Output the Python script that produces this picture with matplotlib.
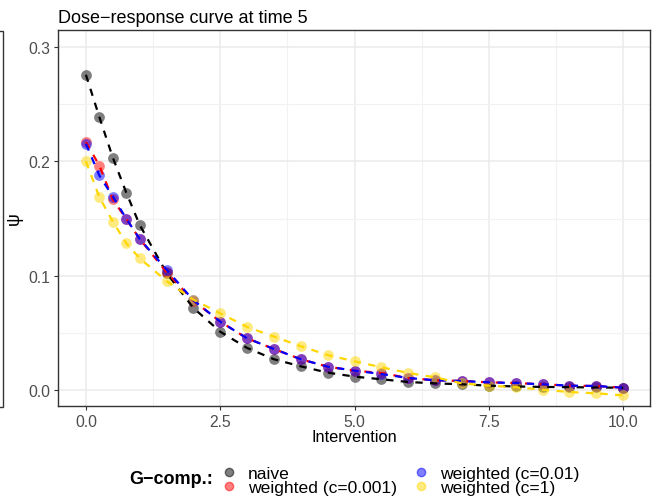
import matplotlib.pyplot as plt
from matplotlib.lines import Line2D
from matplotlib.patches import Rectangle
from matplotlib.ticker import MultipleLocator

plt.rcParams["font.family"] = ["Liberation Sans", "DejaVu Sans"]

intervention = [0, 0.25, 0.5, 0.75, 1, 1.5, 2, 2.5, 3, 3.5, 4, 4.5, 5,
                5.5, 6, 6.5, 7, 7.5, 8, 8.5, 9, 9.5, 10]

naive = [0.2758, 0.2388, 0.2034, 0.1728, 0.1445, 0.1025, 0.0718, 0.0510,
         0.0368, 0.0269, 0.0207, 0.0152, 0.0117, 0.0094, 0.0070, 0.0058,
         0.0050, 0.0038, 0.0031, 0.0027, 0.0025, 0.0022, 0.0020]
w_0001 = [0.2169, 0.1964, 0.1667, 0.1497, 0.1322, 0.1031, 0.0782, 0.0598,
          0.0452, 0.0359, 0.0269, 0.0204, 0.0169, 0.0149, 0.0105, 0.0085,
          0.0079, 0.0067, 0.0061, 0.0050, 0.0038, 0.0035, 0.0020]
w_001 = [0.2154, 0.1877, 0.1693, 0.1500, 0.1322, 0.1054, 0.0785, 0.0598,
         0.0452, 0.0359, 0.0269, 0.0204, 0.0169, 0.0140, 0.0105, 0.0085,
         0.0079, 0.0067, 0.0061, 0.0050, 0.0038, 0.0035, 0.0020]
w_1 = [0.2000, 0.1687, 0.1474, 0.1284, 0.1153, 0.0954, 0.0790, 0.0671,
       0.0552, 0.0467, 0.0383, 0.0306, 0.0251, 0.0199, 0.0149, 0.0111,
       0.0058, 0.0038, 0.0024, 0.0003, -0.0018, -0.0029, -0.0047]

labels = ["naive", "weighted (c=0.001)", "weighted (c=0.01)", "weighted (c=1)"]
colors = ["black", "red", "blue", "gold"]
series = [naive, w_0001, w_001, w_1]

W, H = 664, 502
fig = plt.figure(figsize=(W / 100, H / 100), dpi=100)
ax = fig.add_axes([58 / W, 1 - 407 / H, (650 - 58) / W, (407 - 31) / H])

# points first, then the dashed lines over them
for y, c in zip(series, colors):
    ax.scatter(intervention, y, s=60, color=c, alpha=0.5, linewidths=0, zorder=3)
for y, c in zip(series, colors):
    ax.plot(intervention, y, color=c, lw=1.6, dashes=(3.3, 3.3), zorder=4)

ax.set_xlim(-0.52, 10.5)
ax.set_ylim(-0.014, 0.315)
ax.xaxis.set_minor_locator(MultipleLocator(1.25))
ax.yaxis.set_minor_locator(MultipleLocator(0.05))
ax.set_xticks([0, 2.5, 5, 7.5, 10], ["0.0", "2.5", "5.0", "7.5", "10.0"])
ax.set_yticks([0, 0.1, 0.2, 0.3], ["0.0", "0.1", "0.2", "0.3"])
ax.grid(which="major", color="#EBEBEB", lw=1.1, zorder=0)
ax.grid(which="minor", color="#F2F2F2", lw=0.8, zorder=0)
ax.set_axisbelow(True)
ax.tick_params(which="major", length=3, color="#333333", labelsize=11.3,
               labelcolor="#4D4D4D", width=0.8, pad=2.5)
ax.tick_params(which="minor", length=0)
for sp in ax.spines.values():
    sp.set_color("#333333")
    sp.set_linewidth(1.0)

ax.set_xlabel("Intervention", fontsize=11.8, labelpad=0)
ax.set_ylabel("ψ", fontsize=13, labelpad=4)
ax.set_title("Dose−response curve at time 5", fontsize=13, loc="left", pad=6)

# edge of the neighbouring panel, cut off at the left
fig.add_artist(Rectangle((-20 / W, 1 - 408 / H), 22.5 / W, (408 - 32) / H,
                         transform=fig.transFigure, fill=False,
                         edgecolor="#333333", lw=1.0))

handles = [Line2D([0], [0], color=c, marker="o", markersize=6, alpha=0.5,
                  lw=0) for c in colors]
fig.text(129 / W, 1 - 480 / H, "G−comp.:", fontsize=13, fontweight="bold",
         va="center", ha="left")
fig.legend(handles, labels, ncol=2, loc="upper left",
           bbox_to_anchor=(212 / W, 1 - 458 / H), frameon=False,
           fontsize=12.6, handlelength=0.9, handletextpad=0.65,
           columnspacing=0.9, labelspacing=-0.05, borderpad=0)

fig.savefig("out.png", dpi=100)
